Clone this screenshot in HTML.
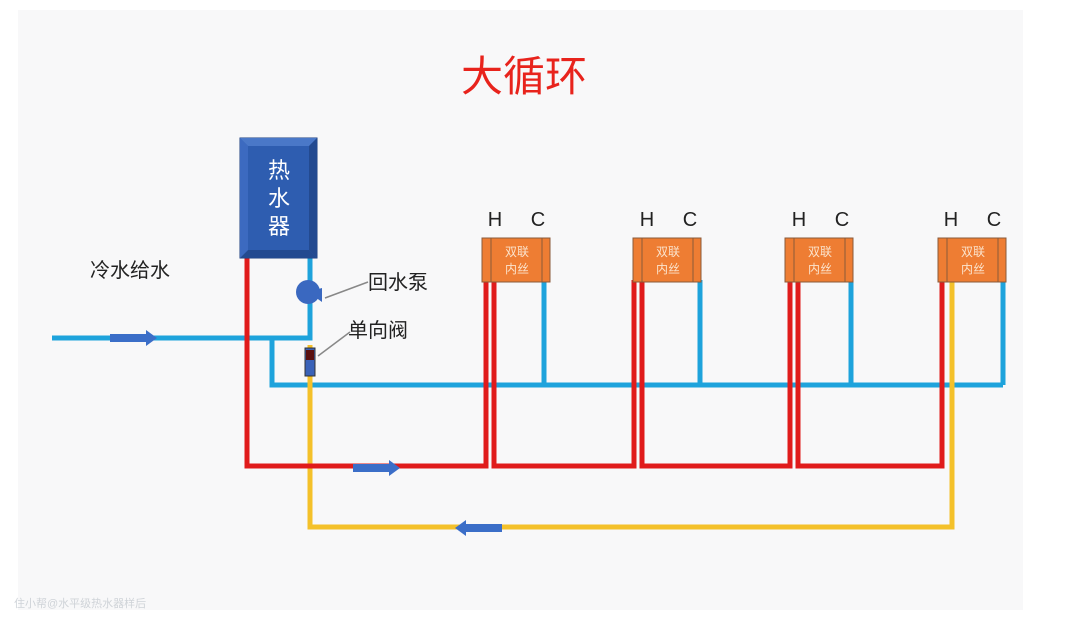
<!DOCTYPE html>
<html><head><meta charset="utf-8"><style>
html,body{margin:0;padding:0;background:#fff;}
svg{display:block;}
text{font-family:"Liberation Sans","Noto Sans CJK SC",sans-serif;}
</style></head><body>
<svg width="1080" height="627" viewBox="0 0 1080 627" xmlns="http://www.w3.org/2000/svg">
<rect x="0" y="0" width="1080" height="627" fill="#ffffff"/>
<rect x="18" y="10" width="1005" height="600" fill="#f8f8f9"/>
<text x="524" y="91" font-size="42" fill="#e8231c" text-anchor="middle">大循环</text>
<!-- blue pipes -->
<g stroke="#1ea3dc" stroke-width="5" fill="none">
<polyline points="52,338 310,338 310,258"/>
<polyline points="272,338 272,385 1003,385"/>
<line x1="544" y1="280" x2="544" y2="385"/>
<line x1="700" y1="280" x2="700" y2="385"/>
<line x1="851" y1="280" x2="851" y2="385"/>
<line x1="1003" y1="280" x2="1003" y2="385"/>
</g>
<!-- yellow -->
<polyline points="310,345 310,527 952,527 952,280" stroke="#f4c12a" stroke-width="5" fill="none"/>
<!-- red -->
<g stroke="#e01b1b" stroke-width="5" fill="none">
<polyline points="247,258 247,466 486,466 486,280"/>
<polyline points="494,280 494,466 634,466 634,280"/>
<polyline points="642,280 642,466 790,466 790,280"/>
<polyline points="798,280 798,466 942,466 942,280"/>
</g>
<!-- arrows -->
<g fill="#3b6ec8">
<rect x="110" y="334" width="36" height="8"/><polygon points="146,330 157,338 146,346"/>
<rect x="353" y="464" width="36" height="8"/><polygon points="389,460 400,468 389,476"/>
<rect x="466" y="524" width="36" height="8"/><polygon points="466,520 455,528 466,536"/>
</g>
<!-- valve -->
<rect x="305" y="348" width="10" height="28" fill="#3a62b8" stroke="#333" stroke-width="1"/>
<rect x="306" y="350" width="8" height="10" fill="#5a1010"/>
<!-- pump -->
<circle cx="308" cy="292" r="12" fill="#3a68c0"/>
<polygon points="308,292 322,288 322,302" fill="#3a68c0"/>
<!-- heater -->
<rect x="240" y="138" width="77" height="120" fill="#2e5db0" stroke="#1e3f80" stroke-width="1"/>
<polygon points="240,138 317,138 309,146 248,146" fill="#4a78c8"/>
<polygon points="240,258 317,258 309,250 248,250" fill="#234a90"/>
<polygon points="240,138 248,146 248,250 240,258" fill="#3c6ac0"/>
<polygon points="317,138 309,146 309,250 317,258" fill="#234a90"/>
<text x="279" y="178" font-size="22" fill="#ffffff" text-anchor="middle">热</text>
<text x="279" y="206" font-size="22" fill="#ffffff" text-anchor="middle">水</text>
<text x="279" y="234" font-size="22" fill="#ffffff" text-anchor="middle">器</text>
<!-- labels -->
<text x="90" y="277" font-size="20" fill="#222">冷水给水</text>
<text x="368" y="289" font-size="20" fill="#222">回水泵</text>
<text x="348" y="337" font-size="20" fill="#222">单向阀</text>
<line x1="368" y1="282" x2="325" y2="298" stroke="#888" stroke-width="1.5"/>
<line x1="350" y1="332" x2="318" y2="356" stroke="#888" stroke-width="1.5"/>
<!-- fixtures -->
<g font-size="12" fill="#fbe3cc" text-anchor="middle">
<g transform="translate(482,238)">
<rect width="68" height="44" fill="#ee7d33" stroke="#8a5a3a"/><line x1="9" y1="0" x2="9" y2="44" stroke="#8a5a3a"/><line x1="60" y1="0" x2="60" y2="44" stroke="#8a5a3a"/>
<text x="35" y="18">双联</text><text x="35" y="35">内丝</text></g>
<g transform="translate(633,238)">
<rect width="68" height="44" fill="#ee7d33" stroke="#8a5a3a"/><line x1="9" y1="0" x2="9" y2="44" stroke="#8a5a3a"/><line x1="60" y1="0" x2="60" y2="44" stroke="#8a5a3a"/>
<text x="35" y="18">双联</text><text x="35" y="35">内丝</text></g>
<g transform="translate(785,238)">
<rect width="68" height="44" fill="#ee7d33" stroke="#8a5a3a"/><line x1="9" y1="0" x2="9" y2="44" stroke="#8a5a3a"/><line x1="60" y1="0" x2="60" y2="44" stroke="#8a5a3a"/>
<text x="35" y="18">双联</text><text x="35" y="35">内丝</text></g>
<g transform="translate(938,238)">
<rect width="68" height="44" fill="#ee7d33" stroke="#8a5a3a"/><line x1="9" y1="0" x2="9" y2="44" stroke="#8a5a3a"/><line x1="60" y1="0" x2="60" y2="44" stroke="#8a5a3a"/>
<text x="35" y="18">双联</text><text x="35" y="35">内丝</text></g>
</g>
<g font-size="20" fill="#222" text-anchor="middle">
<text x="495" y="226">H</text><text x="538" y="226">C</text>
<text x="647" y="226">H</text><text x="690" y="226">C</text>
<text x="799" y="226">H</text><text x="842" y="226">C</text>
<text x="951" y="226">H</text><text x="994" y="226">C</text>
</g>
<text x="14" y="607" font-size="11" fill="#cfd3d8">住小帮@水平级热水器样后</text>
</svg>
</body></html>
